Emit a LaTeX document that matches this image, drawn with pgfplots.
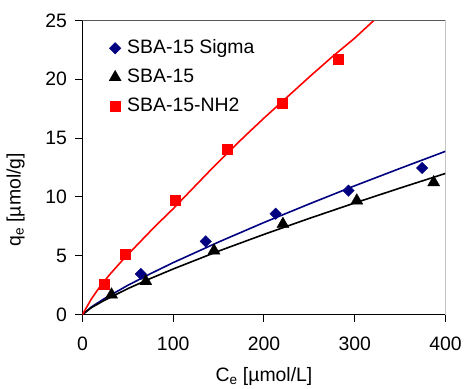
\documentclass[border=0pt]{standalone}
\usepackage{pgfplots}
\pgfplotsset{compat=1.18}
\usepackage{fontspec}
\setmainfont{Liberation Sans}
\definecolor{navyb}{RGB}{0,0,128}
\begin{document}
\begin{tikzpicture}
\begin{axis}[
  scale only axis, width=363.5bp, height=294.5bp,
  xmin=0, xmax=400, ymin=0, ymax=25,
  xtick={0,100,200,300,400}, ytick={0,5,10,15,20,25},
  axis lines*=left,
  axis line style={line width=1bp, black},
  tick style={line width=1bp, black},
  tick align=outside, major tick length=7bp,
  font=\fontsize{19.5}{23}\selectfont,
  /pgf/number format/assume math mode=true,
  xticklabel style={yshift=-12bp},
  yticklabel style={xshift=-5bp},
  xlabel={C\textsubscript{e} [µmol/L]},
  ylabel={q\textsubscript{e} [µmol/g]},
  xlabel style={at={(axis description cs:0.5,-0.21)}, anchor=center},
  ylabel style={at={(axis description cs:-0.184,0.39)}, anchor=center},
  legend style={at={(0.073,0.94)}, anchor=north west, draw=none, fill=none,
    inner sep=0pt, row sep=9bp, nodes={inner sep=1bp, text height=14bp, text depth=4bp},
    /tikz/every odd column/.append style={column sep=5bp}},
  legend cell align=left,
]
% model lines
\addplot[navyb, line width=1.6bp, forget plot] coordinates {
 (0,0) (10,0.66) (25,1.40) (50,2.49) (75,3.48) (100,4.42) (150,6.17)
 (200,7.83) (250,9.41) (300,10.95) (350,12.43) (400,13.88)};
\addplot[black, line width=1.6bp, forget plot] coordinates {
 (0,0) (10,0.60) (25,1.25) (50,2.21) (75,3.07) (100,3.88) (150,5.40)
 (200,6.82) (250,8.18) (300,9.49) (350,10.76) (400,12.0)};
\addplot[red, line width=1.6bp, forget plot] coordinates {
 (0,0) (10,1.35) (20,2.45) (30,3.4) (45,4.7) (60,5.9) (80,7.5) (100,9.0)
 (120,10.6) (140,12.2) (160,13.75) (180,15.25) (200,16.7) (225,18.45)
 (250,20.2) (275,21.9) (300,23.5) (321,25.0)};
% data
\addplot[only marks, mark=square*, mark size=4.1bp,
  mark options={rotate=45, draw=navyb, fill=navyb, line width=0.3bp}] coordinates {
 (64.4,3.46) (135.9,6.23) (212.9,8.58) (293.2,10.54) (374.2,12.46)};
\addlegendentry{SBA-15 Sigma}
\addplot[only marks, mark=triangle*, mark size=7bp,
  mark options={draw=black, fill=black, line width=0.3bp}] coordinates {
 (32.1,1.7) (69.9,2.83) (145,5.44) (220.9,7.7) (302.3,9.69) (387,11.24)};
\addlegendentry{SBA-15}
\addplot[only marks, mark=square*, mark size=5bp,
  mark options={draw=red, fill=red, line width=0.3bp}] coordinates {
 (23.6,2.55) (47.5,5.16) (101.8,9.77) (159.7,14.08) (220.2,17.99) (282.2,21.72)};
\addlegendentry{SBA-15-NH2}
\draw[black!65, line width=1bp] (rel axis cs:0,1) -- (rel axis cs:1,1) -- (rel axis cs:1,0);
\coordinate (sw) at (rel axis cs:0,0);
\coordinate (ne) at (rel axis cs:1,1);
\end{axis}
\path ([shift={(-82.5bp,-74bp)}]sw) rectangle ([shift={(19bp,20.5bp)}]ne);
\end{tikzpicture}
\end{document}
